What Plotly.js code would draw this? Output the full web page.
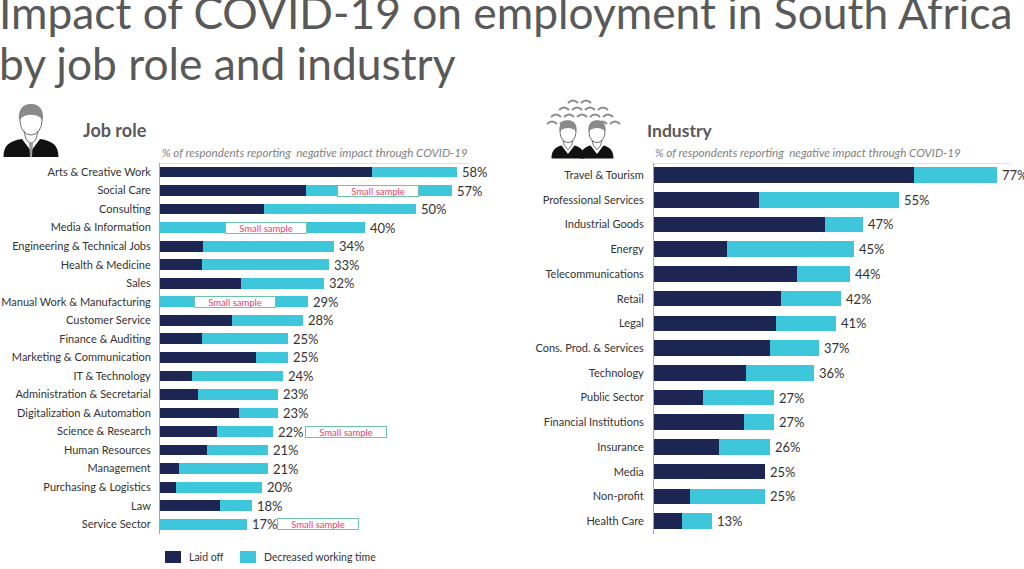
<!DOCTYPE html>
<html>
<head>
<meta charset="utf-8">
<script src="https://cdn.plot.ly/plotly-3.0.1.min.js"></script>
<style>html,body{margin:0;padding:0;background:#fff;}#chart{width:1024px;height:569px;}</style>
</head>
<body>
<div id="chart"></div>
<script>
// ---------- DATA ----------
var jobRoles = ["Arts & Creative Work","Social Care","Consulting","Media & Information","Engineering & Technical Jobs","Health & Medicine","Sales","Manual Work & Manufacturing","Customer Service","Finance & Auditing","Marketing & Communication","IT & Technology","Administration & Secretarial","Digitalization & Automation","Science & Research","Human Resources","Management","Purchasing & Logistics","Law","Service Sector"];
var jobLaidOff   = [41.5,28.6,20.3,0,8.4,8.2,15.8,0,14.0,8.2,18.7,6.2,7.4,15.4,11.1,9.1,3.7,3.1,11.7,0];
var jobDecreased = [16.5,28.4,29.7,40,25.6,24.8,16.2,29,14.0,16.8,6.3,17.8,15.6,7.6,10.9,11.9,17.3,16.9,6.3,17];
var jobTotalLabels = [58,57,50,40,34,33,32,29,28,25,25,24,23,23,22,21,21,20,18,17];
var jobSmallSample = ["Social Care","Media & Information","Manual Work & Manufacturing","Science & Research","Service Sector"];

var industries = ["Travel & Tourism","Professional Services","Industrial Goods","Energy","Telecommunications","Retail","Legal","Cons. Prod. & Services","Technology","Public Sector","Financial Institutions","Insurance","Media","Non-profit","Health Care"];
var indLaidOff   = [58.4,23.7,38.5,16.3,32.1,28.5,27.4,26.0,20.6,11.0,20.2,14.5,25,8.2,6.4];
var indDecreased = [18.6,31.3,8.5,28.7,11.9,13.5,13.6,11.0,15.4,16.0,6.8,11.5,0,16.8,6.6];
var indTotalLabels = [77,55,47,45,44,42,41,37,36,27,27,26,25,25,13];

var seriesNames = ["Laid off","Decreased working time"];
var titleLines = ["Impact of COVID-19 on employment in South Africa","by job role and industry"];
var subtitleText = "% of respondents reporting  negative impact through COVID-19";

// ---------- STYLE ----------
var W = 1024, H = 569;
var DARK = "#1d2553", CYAN = "#3ec6db";
var FONT = "Lato, 'Open Sans', sans-serif";
function X(px){return px/W;}
function Y(py){return 1-py/H;}
var smallSamplePos = [42.6,20.7,14.6,36.3,30.9]; // box centres in axis units (layout)

var traces = [
  {type:"bar",orientation:"h",name:seriesNames[0],y:jobRoles,x:jobLaidOff,xaxis:"x",yaxis:"y",marker:{color:DARK},width:0.58,hoverinfo:"skip"},
  {type:"bar",orientation:"h",name:seriesNames[1],y:jobRoles,x:jobDecreased,xaxis:"x",yaxis:"y",marker:{color:CYAN},width:0.58,hoverinfo:"skip"},
  {type:"bar",orientation:"h",name:seriesNames[0],y:industries,x:indLaidOff,xaxis:"x2",yaxis:"y2",marker:{color:DARK},width:0.63,hoverinfo:"skip"},
  {type:"bar",orientation:"h",name:seriesNames[1],y:industries,x:indDecreased,xaxis:"x2",yaxis:"y2",marker:{color:CYAN},width:0.63,hoverinfo:"skip"}
];

var ann = [];
// title (two lines)
ann.push({xref:"paper",yref:"paper",x:X(-3),y:Y(12),xanchor:"left",yanchor:"middle",align:"left",showarrow:false,
  text:titleLines[0],font:{family:FONT,size:44.3,color:"#595959"}});
ann.push({xref:"paper",yref:"paper",x:X(-3),y:Y(63),xanchor:"left",yanchor:"middle",align:"left",showarrow:false,
  text:titleLines[1],font:{family:FONT,size:44.3,color:"#595959"}});
// section headers
ann.push({xref:"paper",yref:"paper",x:X(81),y:Y(130),xanchor:"left",yanchor:"middle",showarrow:false,text:"<b>Job role</b>",font:{family:FONT,size:18,color:"#595959"}});
ann.push({xref:"paper",yref:"paper",x:X(645),y:Y(130),xanchor:"left",yanchor:"middle",showarrow:false,text:"<b>Industry</b>",font:{family:FONT,size:17.5,color:"#595959"}});
ann.push({xref:"paper",yref:"paper",x:X(160),y:Y(153),xanchor:"left",yanchor:"middle",showarrow:false,text:"<i>"+subtitleText+"</i>",font:{family:FONT,size:11.6,color:"#7f7f7f"}});
ann.push({xref:"paper",yref:"paper",x:X(653),y:Y(153),xanchor:"left",yanchor:"middle",showarrow:false,text:"<i>"+subtitleText+"</i>",font:{family:FONT,size:11.6,color:"#7f7f7f"}});
// totals
jobRoles.forEach(function(c,i){
  ann.push({xref:"x",yref:"y",x:jobLaidOff[i]+jobDecreased[i],y:c,xanchor:"left",xshift:3,yanchor:"middle",showarrow:false,
    text:jobTotalLabels[i]+"%",font:{family:FONT,size:13,color:"#333333"}});
});
industries.forEach(function(c,i){
  ann.push({xref:"x2",yref:"y2",x:indLaidOff[i]+indDecreased[i],y:c,xanchor:"left",xshift:3,yanchor:"middle",showarrow:false,
    text:indTotalLabels[i]+"%",font:{family:FONT,size:13,color:"#333333"}});
});
// small sample notes
jobSmallSample.forEach(function(c,i){
  ann.push({xref:"x",yref:"y",x:smallSamplePos[i],y:c,xanchor:"center",yanchor:"middle",showarrow:false,
    text:"Small sample",font:{family:FONT,size:9.5,color:"#e8416f"},bgcolor:"#ffffff",bordercolor:"#6cc6a4",borderwidth:1,borderpad:0,width:80,height:10});
});

// ---------- ICON / LEGEND SHAPES ----------
var shapes = [];
function pathStr(cmds){
  return cmds.map(function(c){
    if(typeof c==="string") return c;
    return X(c[0])+","+Y(c[1]);
  }).join(" ");
}
function addPath(cmds,fill,line,lw){
  shapes.push({type:"path",xref:"paper",yref:"paper",path:pathStr(cmds),fillcolor:fill||"rgba(0,0,0,0)",line:{color:line||"rgba(0,0,0,0)",width:lw||0},layer:"above"});
}
function addCircle(x0,y0,x1,y1,fill,line,lw){
  shapes.push({type:"circle",xref:"paper",yref:"paper",x0:X(x0),x1:X(x1),y0:Y(y0),y1:Y(y1),fillcolor:fill,line:{color:line||"rgba(0,0,0,0)",width:lw||0},layer:"above"});
}
function addRect(x0,y0,x1,y1,fill){
  shapes.push({type:"rect",xref:"paper",yref:"paper",x0:X(x0),x1:X(x1),y0:Y(y0),y1:Y(y1),fillcolor:fill,line:{width:0},layer:"above"});
}
function person(cx,top,scale,bodyW){
  var s=scale;
  addPath(["M",[cx-bodyW/2,top+52*s],"C",[cx-bodyW/2,top+40*s],[cx-bodyW/2+6*s,top+36*s],[cx-9*s,top+34*s],"L",[cx,top+46*s],"L",[cx+9*s,top+34*s],"C",[cx+bodyW/2-6*s,top+36*s],[cx+bodyW/2,top+40*s],[cx+bodyW/2,top+52*s],"Z"],"#111111");
  addCircle(cx-11*s,top+2*s,cx+11*s,top+30*s,"#ffffff","#6f6f6f",1);
  addPath(["M",[cx-7*s,top+26*s],"L",[cx-5*s,top+34*s],"L",[cx,top+40*s],"L",[cx+5*s,top+34*s],"L",[cx+7*s,top+26*s]],null,"#6f6f6f",1);
  addPath(["M",[cx-12*s,top+15*s],"C",[cx-13*s,top+2*s],[cx-6*s,top-1*s],[cx,top-1*s],"C",[cx+6*s,top-1*s],[cx+13*s,top+2*s],[cx+12*s,top+15*s],"C",[cx+6*s,top+8*s],[cx-6*s,top+8*s],[cx-12*s,top+15*s],"Z"],"#8a8a8a");
}
person(31,105,1.0,55);
addPath(["M",[29,142],"L",[33,142],"L",[32,157],"L",[30,157],"Z"],"#9a9a9a");
var arcRows = [[101,[573,586]],[108,[564,577,590,603]],[115,[556,569,582,595,608]],[122,[552,565,602,615]]];
arcRows.forEach(function(r){
  r[1].forEach(function(x){
    addPath(["M",[x-5,r[0]+2],"Q",[x,r[0]-3],[x+5,r[0]+2]],null,"#8a8a8a",2);
  });
});
person(568,121,0.72,33);
person(597,121,0.72,33);

// faint top border lines
shapes.push({type:"line",xref:"paper",yref:"paper",x0:X(160),x1:X(470),y0:Y(163.5),y1:Y(163.5),line:{color:"#dde3ec",width:1}});
shapes.push({type:"line",xref:"paper",yref:"paper",x0:X(654),x1:X(1010),y0:Y(163.5),y1:Y(163.5),line:{color:"#dde3ec",width:1}});

// legend (drawn as swatches + labels)
var legendColors = [DARK, CYAN];
var legendX = [165, 240];
seriesNames.forEach(function(n,i){
  addRect(legendX[i],551,legendX[i]+16,563,legendColors[i]);
  ann.push({xref:"paper",yref:"paper",x:X(legendX[i]+22),y:Y(557),xanchor:"left",yanchor:"middle",showarrow:false,
    text:n,font:{family:FONT,size:10.5,color:"#333333"}});
});

var yDom = [Y(533.5),Y(162.7)];
var layout = {
  width:W,height:H,margin:{l:0,r:0,t:0,b:0},paper_bgcolor:"#ffffff",plot_bgcolor:"rgba(0,0,0,0)",
  barmode:"stack",showlegend:false,
  font:{family:FONT,color:"#333333"},
  xaxis:{domain:[X(160),X(480)],range:[0,62.5],visible:false,fixedrange:true},
  yaxis:{domain:yDom,categoryorder:"array",categoryarray:jobRoles,range:[jobRoles.length-0.5,-0.5],
    showline:true,linecolor:"#a6a6a6",linewidth:1,ticks:"",showgrid:false,zeroline:false,ticklabelstandoff:6,
    tickfont:{family:FONT,size:11,color:"#333333"},anchor:"x",fixedrange:true},
  xaxis2:{domain:[X(654),X(1020)],range:[0,82.25],visible:false,anchor:"y2",fixedrange:true},
  yaxis2:{domain:yDom,categoryorder:"array",categoryarray:industries,range:[industries.length-0.5,-0.5],
    showline:true,linecolor:"#a6a6a6",linewidth:1,ticks:"",showgrid:false,zeroline:false,ticklabelstandoff:7,
    tickfont:{family:FONT,size:11,color:"#333333"},anchor:"x2",fixedrange:true},
  annotations:ann,shapes:shapes
};
Plotly.newPlot("chart",traces,layout,{displayModeBar:false,staticPlot:true});
</script>
</body>
</html>
